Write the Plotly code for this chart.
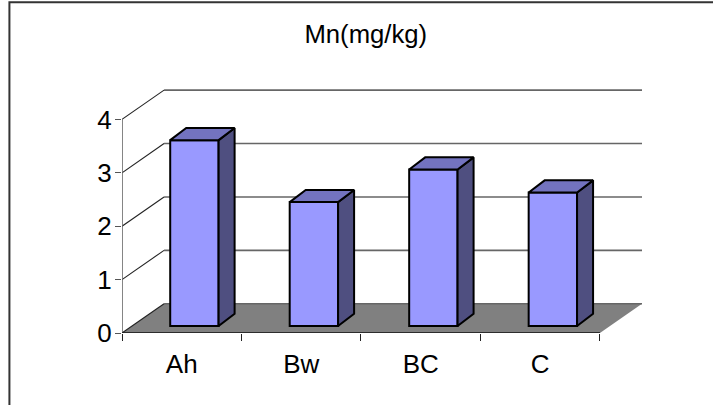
import plotly.graph_objects as go

categories = ["Ah", "Bw", "BC", "C"]
values = [3.48, 2.32, 2.93, 2.50]
y_ticks = [0, 1, 2, 3, 4]
title = "Mn(mg/kg)"

DEPTH_X, DEPTH_Y = 0.352, 0.548      # wall offset, axis units
BAR_DX, BAR_DY = 0.134, 0.228        # bar side/top offset, axis units
BAR_W = 0.405
BAR_SHIFT = 0.106
BAR_BASE = 0.131

centers = [i + 0.5 + BAR_SHIFT for i in range(len(categories))]

fig = go.Figure()
fig.add_trace(go.Bar(x=centers, y=values, base=[BAR_BASE] * len(values), width=BAR_W,
                     marker=dict(color="#9999FF", line=dict(color="black", width=2)),
                     hoverinfo="skip"))

def poly_trace(xs, ys, color):
    fig.add_trace(go.Scatter(x=xs, y=ys, mode="lines", fill="toself", fillcolor=color,
                             line=dict(color="black", width=2), hoverinfo="skip"))

for c, v in zip(centers, values):
    l, r = c - BAR_W / 2, c + BAR_W / 2
    b, t = BAR_BASE, BAR_BASE + v
    poly_trace([r, r + BAR_DX, r + BAR_DX, r, r],
               [b, b + BAR_DY, t + BAR_DY, t, b], "#4F4F80")
    poly_trace([l, r, r + BAR_DX, l + BAR_DX, l],
               [t, t, t + BAR_DY, t + BAR_DY, t], "#7373BF")

# axis lines along the plot edges, not clipped
fig.add_trace(go.Scatter(x=[0, 0], y=[y_ticks[0], y_ticks[-1]], mode="lines", cliponaxis=False,
                         line=dict(color="#666666", width=1.6), hoverinfo="skip"))
fig.add_trace(go.Scatter(x=[0, len(categories)], y=[0, 0], mode="lines", cliponaxis=False,
                         line=dict(color="#111111", width=1.5), hoverinfo="skip"))

shapes = [dict(type="rect", xref="paper", yref="paper", x0=-0.2165, x1=1.3, y0=-1, y1=1.35,
               line=dict(color="#333333", width=2), fillcolor="rgba(0,0,0,0)", layer="below")]
shapes.append(dict(type="path", xref="x", yref="y", layer="below",
                   path=f"M0,0 L4,0 L{4+DEPTH_X},{DEPTH_Y} L{DEPTH_X},{DEPTH_Y} Z",
                   fillcolor="#808080", line=dict(width=0)))
for v in y_ticks:
    shapes.append(dict(type="line", xref="x", yref="y", layer="below", x0=DEPTH_X, x1=4 + DEPTH_X,
                       y0=v + DEPTH_Y, y1=v + DEPTH_Y, line=dict(color="#666666", width=1.6)))
    shapes.append(dict(type="line", xref="x", yref="y", layer="below", x0=0, x1=DEPTH_X,
                       y0=v, y1=v + DEPTH_Y, line=dict(color="#222222", width=1.1)))

fig.update_layout(
    width=713, height=405, showlegend=False, barmode="overlay",
    paper_bgcolor="white", plot_bgcolor="white",
    margin=dict(l=122, r=71.3, t=87.86, b=71.7, pad=0),
    font=dict(family="Liberation Sans, Arial, sans-serif", color="black"),
    title=dict(text=title, x=0.513, xanchor="center", y=0.915, yanchor="middle", font=dict(size=25.7)),
    shapes=shapes,
    xaxis=dict(range=[0, 4 + DEPTH_X], tickvals=[i + 0.5 for i in range(4)], ticktext=categories,
               showgrid=False, zeroline=False, showline=False, ticks="", ticklen=0,
               tickfont=dict(size=26), ticklabelstandoff=13,
               minor=dict(ticks="outside", tick0=0, dtick=1, ticklen=7, tickcolor="#222222",
                          tickwidth=1, showgrid=False)),
    yaxis=dict(range=[0, 4 + DEPTH_Y + 0.04], tickvals=y_ticks, showgrid=False, zeroline=False,
               showline=False, ticks="outside", ticklen=6, tickcolor="#555555", tickwidth=1,
               tickfont=dict(size=26), ticklabelstandoff=-2),
)

fig.write_html("out.html", config={"displayModeBar": False},
               post_script="document.body.style.margin='0';")
